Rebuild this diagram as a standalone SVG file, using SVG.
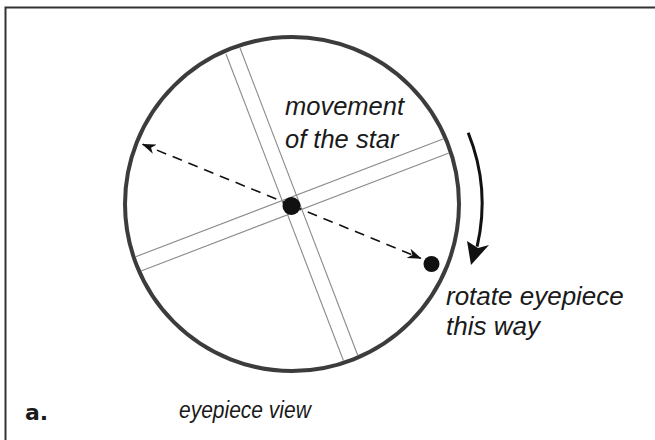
<svg xmlns="http://www.w3.org/2000/svg" width="655" height="440" viewBox="0 0 655 440">
  <style>
    .lbl { font-family: "Liberation Sans", Arial, sans-serif; font-style: italic; fill: #1a1a1a; }
    .hair { stroke: #8a8a8a; stroke-width: 1.1; fill: none; }
    .dash { stroke: #111; stroke-width: 1.6; stroke-dasharray: 10 7; fill: none; }
  </style>
  <defs>
    <clipPath id="field">
      <circle cx="292" cy="204" r="165"/>
    </clipPath>
    <marker id="openHead" viewBox="0 0 14 10" refX="13" refY="5" markerWidth="14" markerHeight="10" markerUnits="userSpaceOnUse" orient="auto-start-reverse">
      <path d="M0,0 L14,5 L0,10 L4,5 Z" fill="#111"/>
    </marker>
  </defs>
  <rect width="655" height="440" fill="#ffffff"/>
  <!-- frame (open on right and bottom) -->
  <path d="M5.5,440 L5.5,7.5 L655,7.5" fill="none" stroke="#333" stroke-width="2"/>

  <g id="eyepiece-field">
    <circle cx="292" cy="204" r="167" fill="none" stroke="#3c3c3c" stroke-width="4"/>
    <g id="crosshair" clip-path="url(#field)">
      <line class="hair" x1="240" y1="48" x2="358" y2="356"/>
      <line class="hair" x1="226" y1="54" x2="344" y2="362"/>
      <line class="hair" x1="141" y1="271" x2="449" y2="153"/>
      <line class="hair" x1="135" y1="257" x2="443" y2="139"/>
    </g>
  </g>

  <g id="connectors">
    <line class="dash" x1="292" y1="205.5" x2="142.7" y2="144.3" marker-end="url(#openHead)"/>
    <line class="dash" x1="292" y1="205.5" x2="420.7" y2="258.3" marker-end="url(#openHead)"/>
    <g id="rotate-arrow">
      <path d="M468.2,132.8 A190,190 0 0 1 477.1,246.7" fill="none" stroke="#111" stroke-width="3"/>
      <path d="M471,265 L489,245 L478,248 L467,241 Z" fill="#111"/>
    </g>
  </g>

  <g id="star-center">
    <circle cx="291.5" cy="206" r="9" fill="#111"/>
  </g>
  <g id="star-moved">
    <circle cx="431.5" cy="264" r="8" fill="#111"/>
  </g>

  <g id="label-movement">
    <text class="lbl" x="285" y="115" font-size="25.5">movement</text>
    <text class="lbl" x="285" y="148" font-size="25.5">of the star</text>
  </g>
  <g id="label-rotate">
    <text class="lbl" x="446" y="305" font-size="26">rotate eyepiece</text>
    <text class="lbl" x="446" y="335" font-size="26">this way</text>
  </g>
  <g id="label-view">
    <text class="lbl" x="179" y="0" font-size="21" transform="translate(0,418) scale(1,1.13)">eyepiece view</text>
  </g>
  <g id="label-a">
    <text x="25" y="420" font-family="'DejaVu Sans', 'Liberation Sans', sans-serif" font-weight="bold" font-size="22" fill="#1a1a1a">a.</text>
  </g>
</svg>
